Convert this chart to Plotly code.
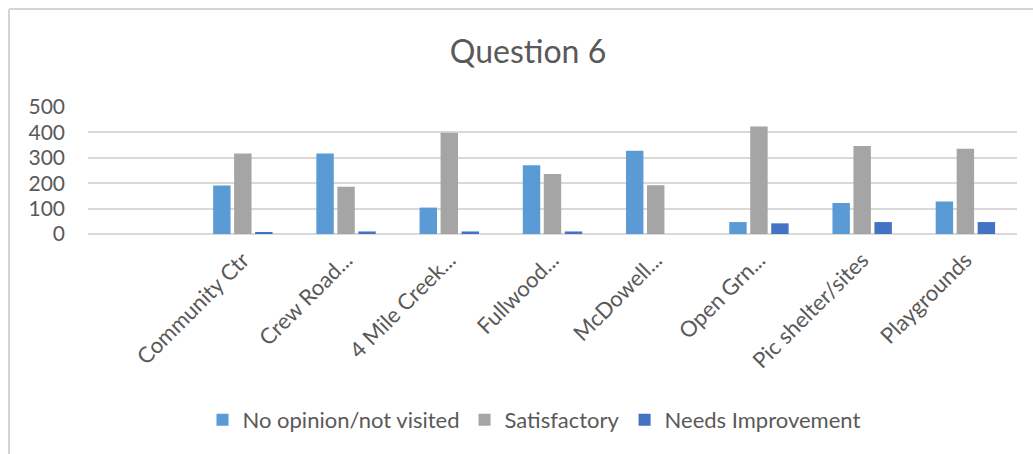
import plotly.graph_objects as go

# Survey responses per facility
facilities = [
    "Community Ctr",
    "Crew Road...",
    "4 Mile Creek...",
    "Fullwood...",
    "McDowell...",
    "Open Grn...",
    "Pic shelter/sites",
    "Playgrounds",
]
no_opinion = [191, 317, 104, 271, 328, 47, 122, 128]
satisfactory = [317, 186, 399, 236, 192, 423, 346, 336]
needs_improvement = [8, 10, 10, 10, 0, 42, 47, 47]

series_names = ["No opinion/not visited", "Satisfactory", "Needs Improvement"]
series_colors = ["#5B9BD5", "#A5A5A5", "#4472C4"]

W, H = 1033, 454
M_L, M_R, M_T, M_B = 88, 16, 107, 220
FONT = "Lato, 'Open Sans', sans-serif"
TEXT = "#595959"
GRID = "#D9D9D9"

fig = go.Figure()
for name, vals, col in zip(series_names, [no_opinion, satisfactory, needs_improvement], series_colors):
    fig.add_trace(go.Bar(x=facilities, y=vals, name=name, marker=dict(color=col, line=dict(width=0))))

# chart frame (top and left edges)
pw = W - M_L - M_R
ph = H - M_T - M_B
def px_x(p):
    return (p - M_L) / pw
def px_y(p):
    return (H - M_B - p) / ph

fig.add_shape(type="line", xref="paper", yref="paper",
              x0=px_x(9), x1=px_x(1033), y0=px_y(9), y1=px_y(9),
              line=dict(color="#D4D4D4", width=2))
fig.add_shape(type="line", xref="paper", yref="paper",
              x0=px_x(9), x1=px_x(9), y0=px_y(9), y1=px_y(454),
              line=dict(color="#D4D4D4", width=2))

fig.update_layout(
    width=W, height=H,
    margin=dict(l=M_L, r=M_R, t=M_T, b=M_B),
    paper_bgcolor="white", plot_bgcolor="white",
    barmode="group", bargap=0.39, bargroupgap=0.17,
    font=dict(family=FONT, color=TEXT, size=21),
    title=dict(text="Question 6", x=528 / W, xanchor="center",
               y=1 - 52 / H, yanchor="middle", yref="container",
               font=dict(family=FONT, size=32, color=TEXT)),
    showlegend=True,
    legend=dict(orientation="h", x=534 / W, xanchor="center", xref="container",
                y=1 - 420 / H, yanchor="middle", yref="container",
                font=dict(family=FONT, size=22, color=TEXT),
                itemwidth=30, tracegroupgap=0),
    xaxis=dict(type="category", range=[-1.5, len(facilities) - 0.5],
               tickangle=-45, showgrid=False, showline=False, ticks="",
               tickfont=dict(family=FONT, size=22, color=TEXT),
               ticklabelstandoff=8),
    yaxis=dict(range=[0, 500], tickvals=[0, 100, 200, 300, 400, 500],
               showgrid=True, gridcolor=GRID, gridwidth=2,
               zeroline=True, zerolinecolor=GRID, zerolinewidth=2,
               showline=False, ticks="",
               tickfont=dict(family=FONT, size=21, color=TEXT),
               ticklabelstandoff=22),
)

fig.write_html("out.html")
